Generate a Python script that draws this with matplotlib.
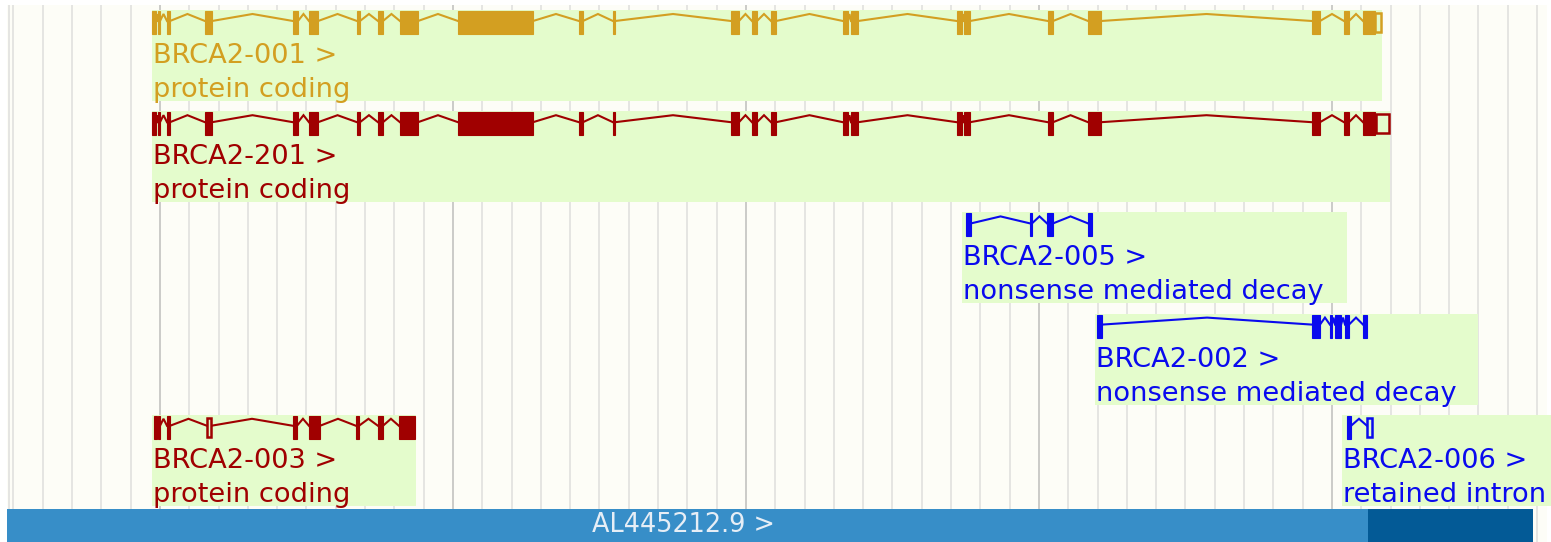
import matplotlib
matplotlib.use("Agg")
import matplotlib.pyplot as plt
from matplotlib.patches import Rectangle
import matplotlib.transforms as mtransforms

# genomic positions in kb (chr13)
view = (32309.08, 32414.95)
panel = (32309.56, 32414.70)

names = ["BRCA2-001", "BRCA2-201", "BRCA2-005", "BRCA2-002", "BRCA2-003", "BRCA2-006"]
biotypes = ["protein coding", "protein coding", "nonsense mediated decay",
            "nonsense mediated decay", "protein coding", "retained intron"]
rows = [0, 1, 2, 3, 4, 4]
colors = ["#d39f21", "#a00000", "#0a0aee", "#0a0aee", "#a00000", "#0a0aee"]

# label box extents (kb)
box_start = [32319.45, 32319.45, 32374.75, 32383.82, 32319.45, 32400.68]
box_end = [32403.41, 32403.96, 32401.03, 32409.97, 32337.47, 32420.00]

# exons: (start, end), and which ones are non-coding (drawn hollow)
ex_001 = [(32319.45, 32319.73), (32319.86, 32320.00), (32320.48, 32320.68),
          (32323.07, 32323.55), (32329.08, 32329.42), (32330.17, 32330.79),
          (32333.45, 32333.65), (32334.88, 32335.22), (32336.38, 32337.61),
          (32340.34, 32345.46), (32348.60, 32348.87), (32350.92, 32351.06),
          (32358.98, 32359.52), (32360.41, 32360.75), (32361.71, 32362.05),
          (32366.62, 32366.96), (32367.17, 32367.65), (32374.40, 32374.75),
          (32374.88, 32375.29), (32380.61, 32380.96), (32383.35, 32384.23),
          (32398.64, 32399.18), (32400.82, 32401.16), (32402.12, 32402.94)]
utr_001 = [(32402.94, 32403.35)]
ex_201 = ex_001
utr_201 = [(32403.00, 32403.89)]
ex_005 = [(32375.02, 32375.36), (32379.39, 32379.52), (32380.55, 32380.96),
          (32383.35, 32383.62)]
utr_005 = []
ex_002 = [(32383.96, 32384.30), (32398.64, 32399.18), (32399.86, 32400.00),
          (32400.21, 32400.62), (32400.89, 32401.16), (32402.12, 32402.39)]
utr_002 = []
ex_003 = [(32319.59, 32319.80), (32319.86, 32320.00), (32320.48, 32320.68),
          (32329.08, 32329.35), (32330.17, 32330.92), (32333.38, 32333.58),
          (32334.88, 32335.22), (32336.31, 32337.41)]
utr_003 = [(32323.21, 32323.48)]
ex_006 = [(32401.03, 32401.30)]
utr_006 = [(32402.39, 32402.73)]

exons = [ex_001, ex_201, ex_005, ex_002, ex_003, ex_006]
utrs = [utr_001, utr_201, utr_005, utr_002, utr_003, utr_006]

contig_name = "AL445212.9 >"
contig_parts = [(32309.56, 32402.46), (32402.46, 32413.72)]
contig_colors = ["#378ec8", "#035a96"]

fig = plt.figure(figsize=(15.51, 5.42), dpi=100, facecolor="white")
ax = fig.add_axes([0, 0, 1, 1])
ax.set_xlim(*view)
ax.set_ylim(542, 0)
ax.axis("off")

# background + grid
ax.add_patch(Rectangle((panel[0], 5), panel[1] - panel[0], 537, color="#fdfdf7", lw=0, zorder=0))
minor = [x for x in range(32310, 32415, 2) if x % 20 != 0]
major = [x for x in range(32320, 32415, 20)]
ax.vlines(minor, 5, 542, color="#e5e5e2", lw=1.4, zorder=1)
ax.vlines(major, 5, 542, color="#cbcbc8", lw=1.4, zorder=1)
ax.vlines([panel[0] + 0.12], 5, 542, color="#e5e5e2", lw=1.4, zorder=1)

fs = 19.6
txt_off = mtransforms.offset_copy(ax.transData, fig=fig, x=1.0, y=0, units="dots")

for i, name in enumerate(names):
    top = 10 + 101.2 * rows[i]
    c = colors[i]
    ax.add_patch(Rectangle((box_start[i], top), box_end[i] - box_start[i], 91,
                           color="#e4fccc", lw=0, zorder=2))
    ex = exons[i]
    allex = sorted(ex + utrs[i])
    # introns as hats
    for (s0, e0), (s1, e1) in zip(allex[:-1], allex[1:]):
        mid = (e0 + s1) / 2
        ax.plot([e0, mid, s1], [top + 11, top + 4, top + 11], color=c, lw=1.5,
                zorder=3, solid_joinstyle="miter")
    for s, e in ex:
        ax.bar(s, 23, width=e - s, bottom=top + 1, align="edge", color=c,
               lw=0.8, edgecolor=c, zorder=4)
    for s, e in utrs[i]:
        ax.bar(s, 19, width=e - s, bottom=top + 3, align="edge",
               color="#e4fccc", lw=1.8, edgecolor=c, zorder=4)
    ax.text(box_start[i], top + 53, name + " >", color=c, fontsize=fs,
            va="baseline", ha="left", transform=txt_off, zorder=5)
    ax.text(box_start[i], top + 87, biotypes[i], color=c, fontsize=fs,
            va="baseline", ha="left", transform=txt_off, zorder=5)

for (s, e), c in zip(contig_parts, contig_colors):
    ax.bar(s, 33, width=e - s, bottom=509, align="edge", color=c, lw=0, zorder=6)
ax.text(32349.49, 525.5, contig_name, color="#e6eef6", fontsize=18.4,
        va="center", ha="left", zorder=7)

fig.savefig("out.png", dpi=100, facecolor="white")
